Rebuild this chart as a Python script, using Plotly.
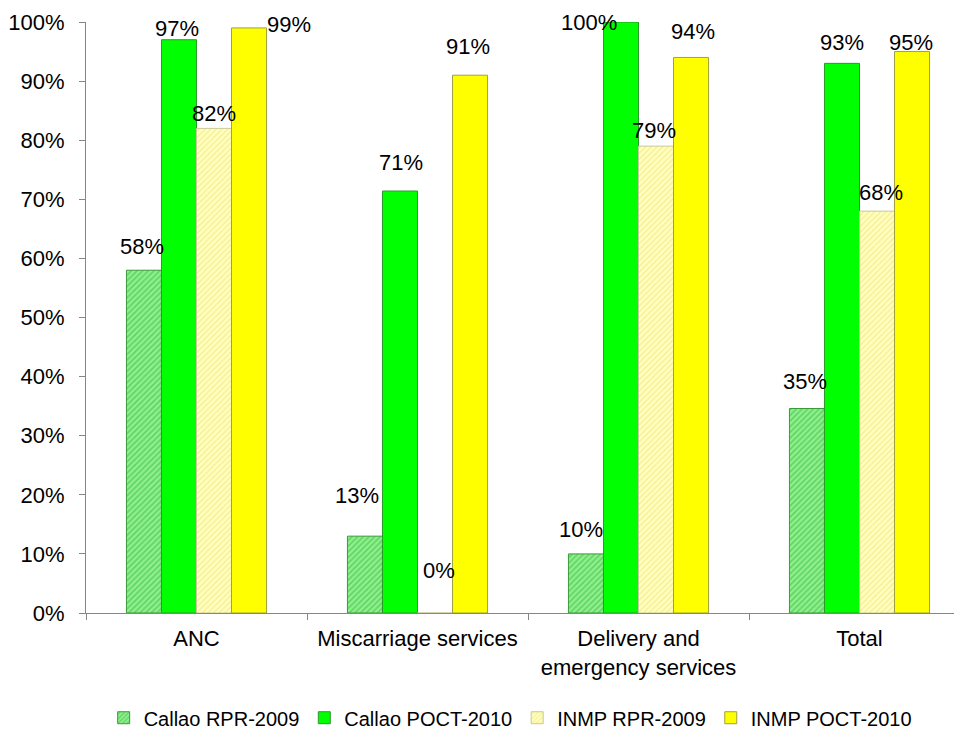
import plotly.graph_objects as go

categories = ["ANC", "Miscarriage services", "Delivery and<br>emergency services", "Total"]
series_names = ["Callao RPR-2009", "Callao POCT-2010", "INMP RPR-2009", "INMP POCT-2010"]
callao_rpr_2009 = [0.58, 0.13, 0.10, 0.346]
callao_poct_2010 = [0.97, 0.714, 1.00, 0.93]
inmp_rpr_2009 = [0.82, 0.00, 0.79, 0.68]
inmp_poct_2010 = [0.99, 0.91, 0.94, 0.95]
y_ticks = [0, 0.1, 0.2, 0.3, 0.4, 0.5, 0.6, 0.7, 0.8, 0.9, 1.0]

series_values = [callao_rpr_2009, callao_poct_2010, inmp_rpr_2009, inmp_poct_2010]

fills = ["#80e880", "#00ff00", "#ffffb0", "#ffff00"]
line_colors = ["#3a9a3a", "#2a9a2a", "#c8c89a", "#a0a040"]
patterns = [
    dict(shape="/", fgcolor="#2eb82e", bgcolor="#90f090", size=4, solidity=0.4),
    None,
    dict(shape="/", fgcolor="#eedd66", bgcolor="#ffffc0", size=4, solidity=0.35),
    None,
]

# label offsets in px (dx, dy) relative to bar center / bar top, per series then category
label_dx = [[-2.5, -8.5, -5.5, -2.5],
            [-2.5, 0.5, -32.5, -0.5],
            [-0.5, 3.5, -2.5, 3.5],
            [40, -2.5, 1.5, -1.5]]
label_dy = [[24, 41, 24, 27],
            [11, 29, 0, 21],
            [15, 43, 16, 19],
            [3, 29, 26, 9]]

FONT = "Liberation Sans, Arial, sans-serif"
BAR_PX = 35

fig = go.Figure()
for i, (name, vals) in enumerate(zip(series_names, series_values)):
    marker = dict(color=fills[i], line=dict(color=line_colors[i], width=1))
    if patterns[i] is not None:
        marker["pattern"] = patterns[i]
    fig.add_trace(go.Bar(name=name, x=categories, y=vals, marker=marker))

annotations = []
for i, vals in enumerate(series_values):
    for j, v in enumerate(vals):
        annotations.append(dict(
            x=categories[j], y=v, xref="x", yref="y",
            text=f"{round(v*100):.0f}%", showarrow=False,
            xshift=(i - 1.5) * BAR_PX + label_dx[i][j],
            yshift=label_dy[i][j],
            font=dict(family=FONT, size=22, color="#000000"),
            xanchor="center", yanchor="middle",
        ))

fig.update_layout(
    width=962, height=737,
    margin=dict(l=78, r=0, t=14, b=132, autoexpand=False),
    paper_bgcolor="white", plot_bgcolor="white",
    barmode="group", bargap=0.366, bargroupgap=0,
    font=dict(family=FONT, size=22, color="#000000"),
    showlegend=True,
    legend=dict(orientation="h", xref="container", yref="container",
                x=0.522, xanchor="center", y=0.037, yanchor="middle",
                font=dict(family=FONT, size=20, color="#000000"),
                itemwidth=30, traceorder="normal"),
    annotations=annotations,
)
fig.update_xaxes(
    range=[-0.5, 3.5], showline=True, linecolor="#868686", linewidth=1,
    ticks="outside", tickson="boundaries", ticklen=6, tickcolor="#868686",
    showgrid=False, automargin=False, ticklabelstandoff=6,
    tickfont=dict(family=FONT, size=22, color="#000000"),
)
fig.update_yaxes(
    range=[0, 1], tickvals=y_ticks, tickformat=".0%", showline=True,
    linecolor="#868686", linewidth=1, ticks="outside", ticklen=6,
    tickcolor="#868686", showgrid=False, zeroline=False, automargin=False,
    ticklabelstandoff=10,
    tickfont=dict(family=FONT, size=22, color="#000000"),
)

fig.write_html("out.html")
